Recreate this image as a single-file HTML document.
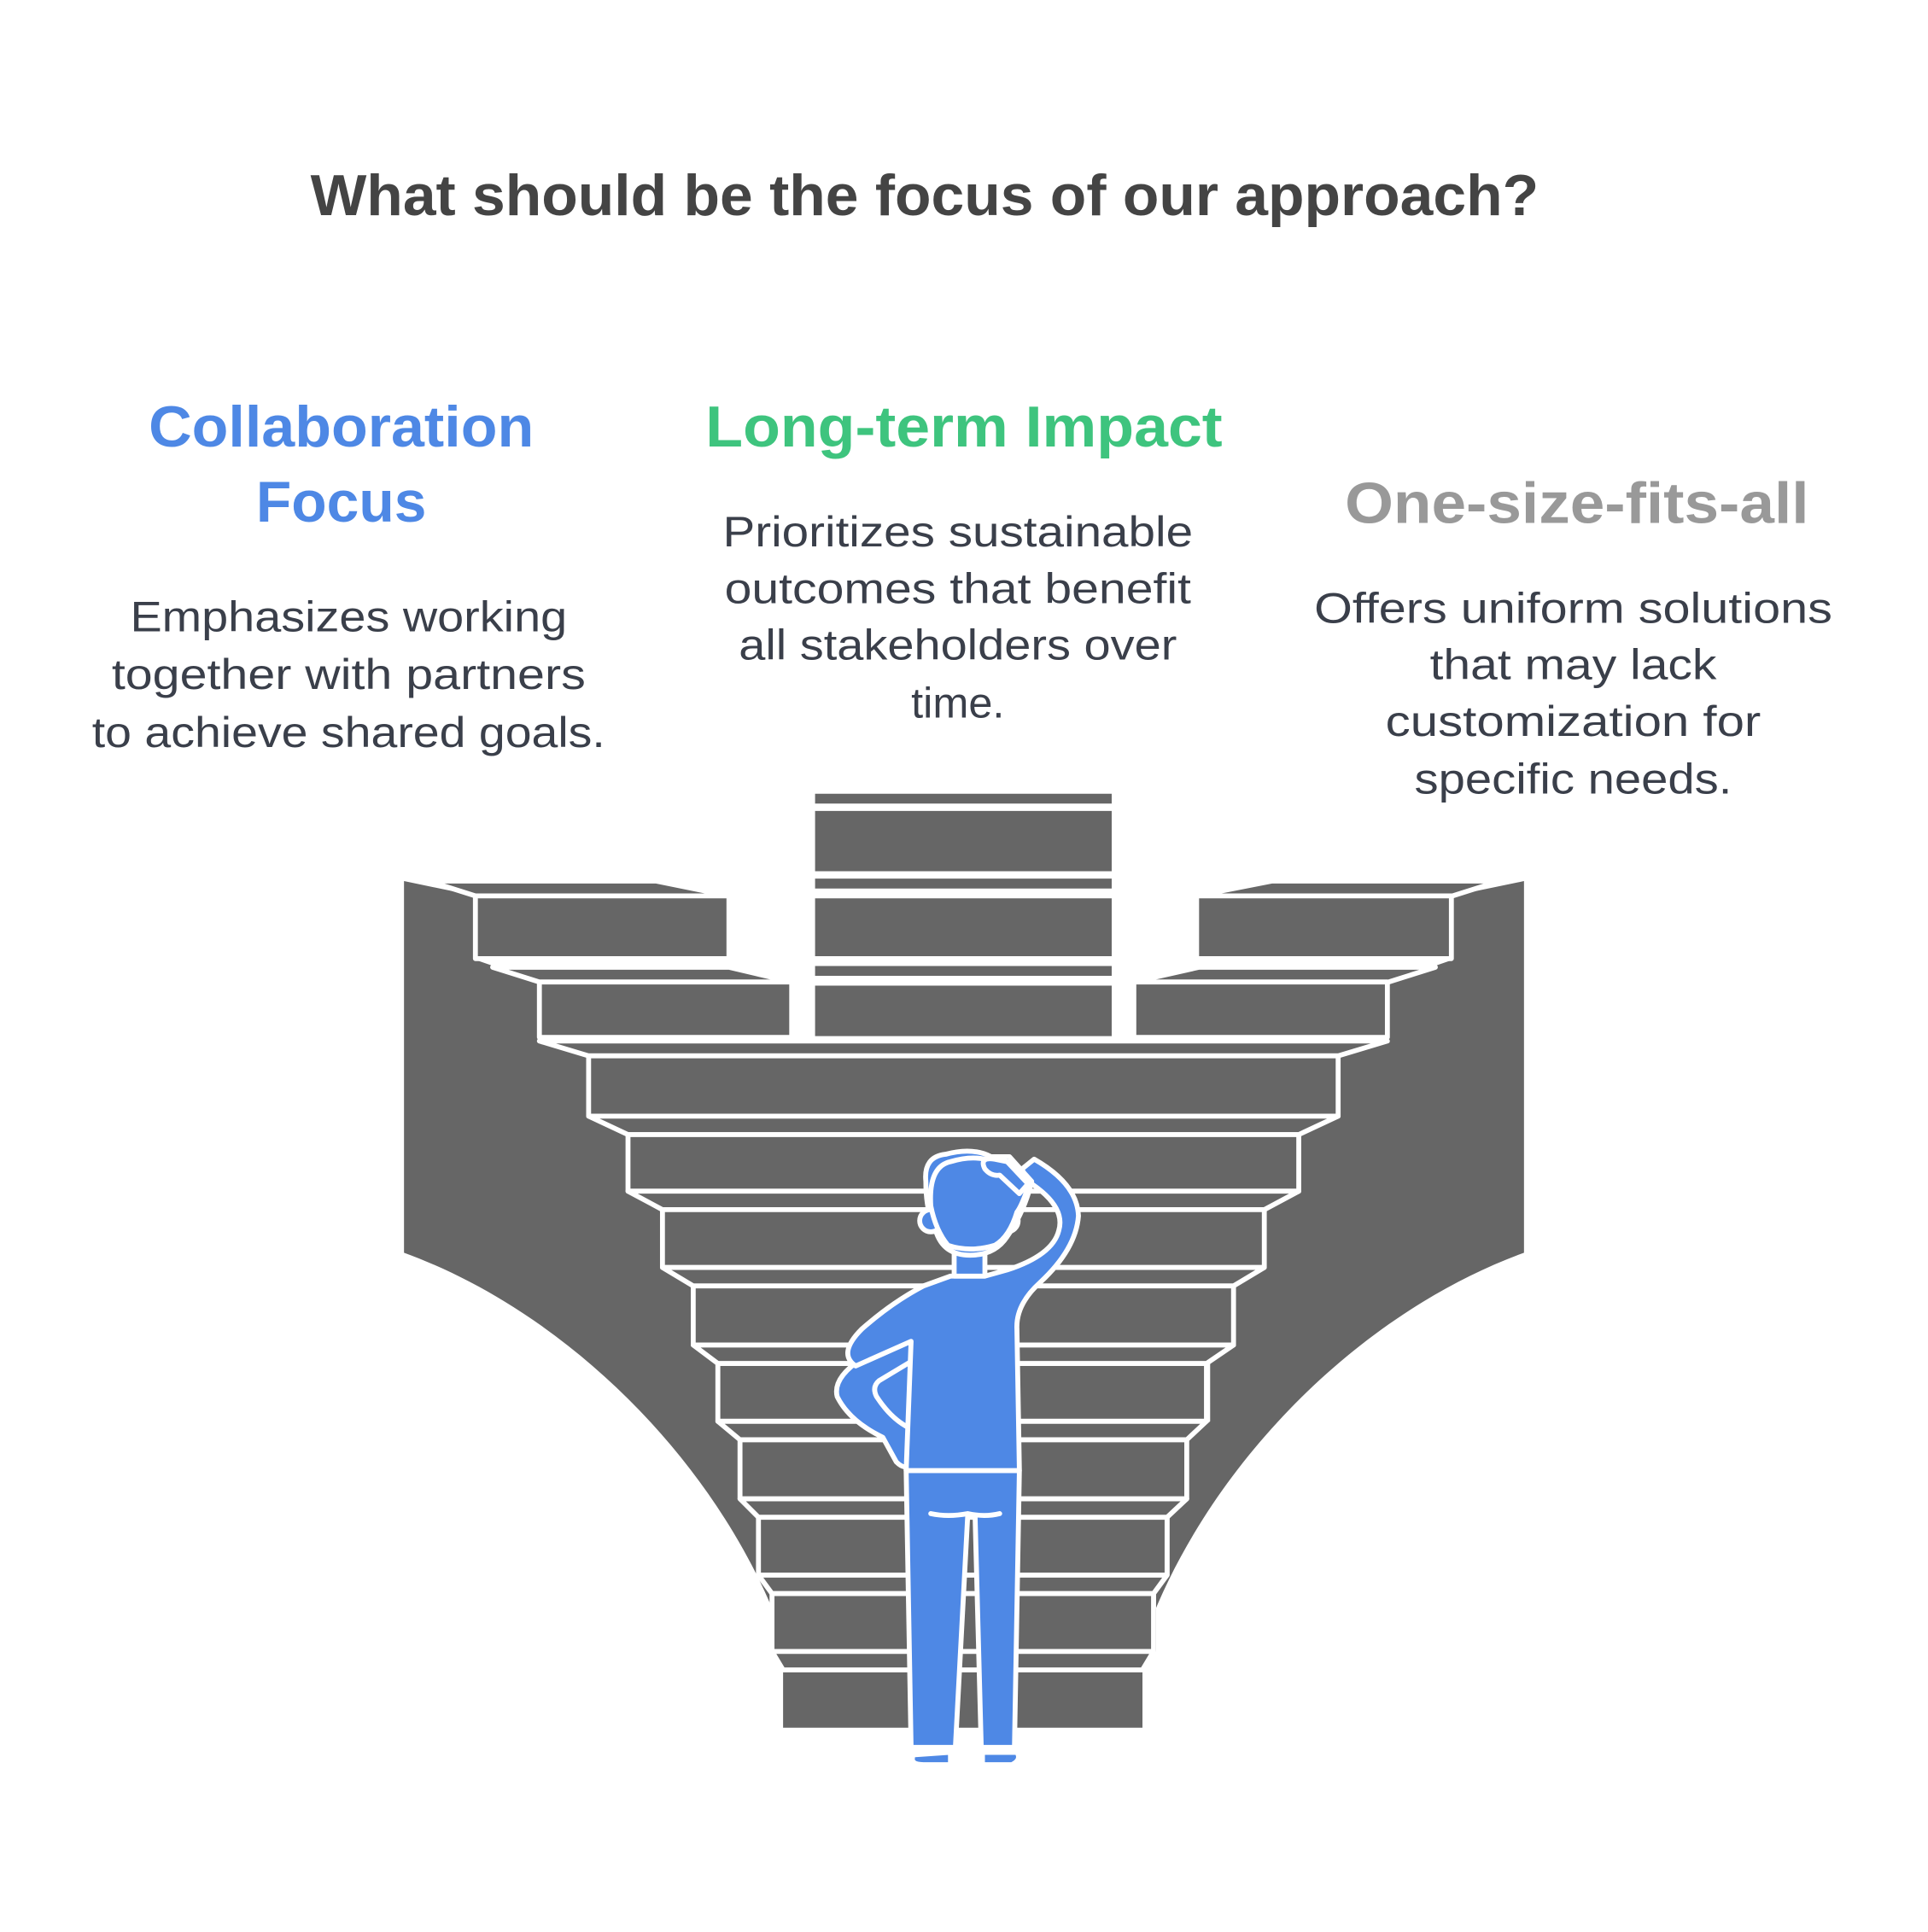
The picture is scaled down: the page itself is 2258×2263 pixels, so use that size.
<!DOCTYPE html>
<html><head><meta charset="utf-8"><style>
html,body{margin:0;padding:0;background:#fff}
svg{display:block}
text{font-family:"Liberation Sans",sans-serif}
</style></head><body>
<svg width="2258" height="2263" viewBox="0 0 1566 1570" xmlns="http://www.w3.org/2000/svg">
<rect width="1566" height="1570" fill="#fff"/>
<text x="751" y="175" text-anchor="middle" font-size="47" font-weight="bold" fill="#444" textLength="998" lengthAdjust="spacingAndGlyphs">What should be the focus of our approach?</text>

<g font-weight="bold" font-size="47" text-anchor="middle">
<text x="277" y="363" fill="#4e88e5" textLength="313" lengthAdjust="spacingAndGlyphs">Collaboration</text>
<text x="277" y="424" fill="#4e88e5">Focus</text>
<text x="783" y="363" fill="#3ec47e" textLength="420" lengthAdjust="spacingAndGlyphs">Long-term Impact</text>
<text x="1281" y="425" fill="#999" textLength="377" lengthAdjust="spacingAndGlyphs">One-size-fits-all</text>
</g>
<g font-size="35" text-anchor="middle" fill="#3a3f4a">
<text x="283" y="513" textLength="355" lengthAdjust="spacingAndGlyphs">Emphasizes working</text>
<text x="283" y="560" textLength="385" lengthAdjust="spacingAndGlyphs">together with partners</text>
<text x="283" y="607" textLength="417" lengthAdjust="spacingAndGlyphs">to achieve shared goals.</text>
<text x="778" y="444" textLength="382" lengthAdjust="spacingAndGlyphs">Prioritizes sustainable</text>
<text x="778" y="490" textLength="379" lengthAdjust="spacingAndGlyphs">outcomes that benefit</text>
<text x="778" y="536" textLength="356" lengthAdjust="spacingAndGlyphs">all stakeholders over</text>
<text x="778" y="583">time.</text>
<text x="1278" y="506" textLength="421" lengthAdjust="spacingAndGlyphs">Offers uniform solutions</text>
<text x="1278" y="552" textLength="233" lengthAdjust="spacingAndGlyphs">that may lack</text>
<text x="1278" y="598" textLength="305" lengthAdjust="spacingAndGlyphs">customization for</text>
<text x="1278" y="645" textLength="258" lengthAdjust="spacingAndGlyphs">specific needs.</text>
</g>

<g fill="#666">
<path d="M328,716 L386,728 L386,780 L438,798 L438,846 L478,858 L478,907 L510,922 L510,968 L538,983 L538,1030 L563,1045 L563,1093 L583,1108 L583,1155 L601,1170 L601,1218 L616,1233 L616,1280 L627,1295 L627,1342 L636,1357 L636,1402 L636,1330 C590,1200 470,1070 328,1018 Z"/>
<path d="M1238,716 L1180,728 L1180,780 L1128,798 L1128,846 L1088,858 L1088,907 L1056,922 L1056,968 L1028,983 L1028,1030 L1003,1045 L1003,1093 L983,1108 L983,1155 L965,1170 L965,1218 L950,1233 L950,1280 L939,1295 L939,1342 L930,1357 L930,1402 L930,1330 C976,1200 1096,1070 1238,1018 Z"/>
</g>
<g fill="#666" stroke="#fff" stroke-width="4" stroke-linejoin="round">
<rect x="660" y="643" width="245" height="12"/>
<rect x="660" y="657" width="245" height="53"/>
<rect x="660" y="712" width="245" height="12"/>
<rect x="660" y="728" width="245" height="51"/>
<rect x="660" y="783" width="245" height="12"/>
<rect x="660" y="799" width="245" height="45"/>
<polygon points="348,716 533,716 592,728 386,728"/>
<rect x="386" y="728" width="206" height="51"/>
<polygon points="400,786 592,786 643,798 438,798"/>
<rect x="438" y="798" width="205" height="45"/>
<polygon points="1218,716 1033,716 972,728 1180,728"/>
<rect x="972" y="728" width="207" height="51"/>
<polygon points="1166,786 974,786 921,798 1128,798"/>
<rect x="921" y="798" width="206" height="45"/>
<polygon points="438,846 1127,846 1087,858 478,858"/>
<rect x="478" y="858" width="609" height="49"/>
<polygon points="478,907 1087,907 1055,922 510,922"/>
<rect x="510" y="922" width="545" height="46"/>
<polygon points="510,968 1055,968 1027,983 538,983"/>
<rect x="538" y="983" width="489" height="47"/>
<polygon points="538,1030 1027,1030 1002,1045 563,1045"/>
<rect x="563" y="1045" width="439" height="48"/>
<polygon points="563,1093 1002,1093 980,1108 583,1108"/>
<rect x="583" y="1108" width="397" height="47"/>
<polygon points="583,1155 980,1155 964,1170 601,1170"/>
<rect x="601" y="1170" width="363" height="48"/>
<polygon points="601,1218 964,1218 948,1233 616,1233"/>
<rect x="616" y="1233" width="332" height="47"/>
<polygon points="616,1280 948,1280 937,1295 627,1295"/>
<rect x="627" y="1295" width="310" height="47"/>
<polygon points="627,1342 937,1342 928,1357 636,1357"/>
</g>
<rect x="636" y="1359" width="292" height="45" fill="#666"/>

<g fill="#4e88e5" stroke="#fff" stroke-width="4" stroke-linejoin="round" stroke-linecap="round">
<path d="M740,1420 L736,1195 L828,1195 L824,1420 L797,1420 L792,1232 L786,1232 L776,1420 Z"/>
<path d="M742,1426 Q738,1434 750,1434 L772,1434 L772,1424 Z"/>
<path d="M798,1424 L798,1434 L822,1434 Q830,1430 826,1424 Z"/>
<path d="M756,1230 Q770,1233 786,1230 Q800,1233 812,1230"/>
<path d="M738,1195 L742,1090 Q720,1105 700,1118 Q700,1130 720,1155 L735,1168 L736,1195 Z"/>
<path d="M746,1080 L700,1104 Q676,1120 680,1135 Q690,1155 717,1168 L728,1188 Q735,1195 740,1190 L742,1162 Q725,1155 712,1135 Q708,1127 714,1122 L744,1104"/>
<path d="M750,1045 L772,1037 L800,1037 L818,1032 Q855,1020 860,1000 Q866,980 835,960 L830,950 L840,942 Q875,962 876,988 Q874,1015 845,1042 Q825,1060 826,1080 L828,1195 L736,1195 L740,1090 L695,1110 Q680,1100 700,1080 Q725,1058 750,1045 Z"/>
<rect x="775" y="1012" width="25" height="25"/>
<path d="M752,960 Q750,940 768,938 Q790,932 805,940 L820,940 L838,960 Q832,985 818,1005 Q808,1020 788,1020 Q766,1020 760,1000 Q752,985 752,960 Z"/>
<circle cx="756" cy="992" r="9"/>
<circle cx="818" cy="992" r="9"/>
<path d="M756,980 Q754,948 772,944 Q792,938 806,944 L822,944 L836,962 Q830,980 826,985 Q820,1005 808,1012 Q788,1018 770,1012 Q760,1000 756,980 Z"/>
<path d="M800,950 Q795,940 808,942 L818,944 L835,962 L828,970 L812,955 Q805,956 800,950 Z"/>
</g>
</svg>
</body></html>
